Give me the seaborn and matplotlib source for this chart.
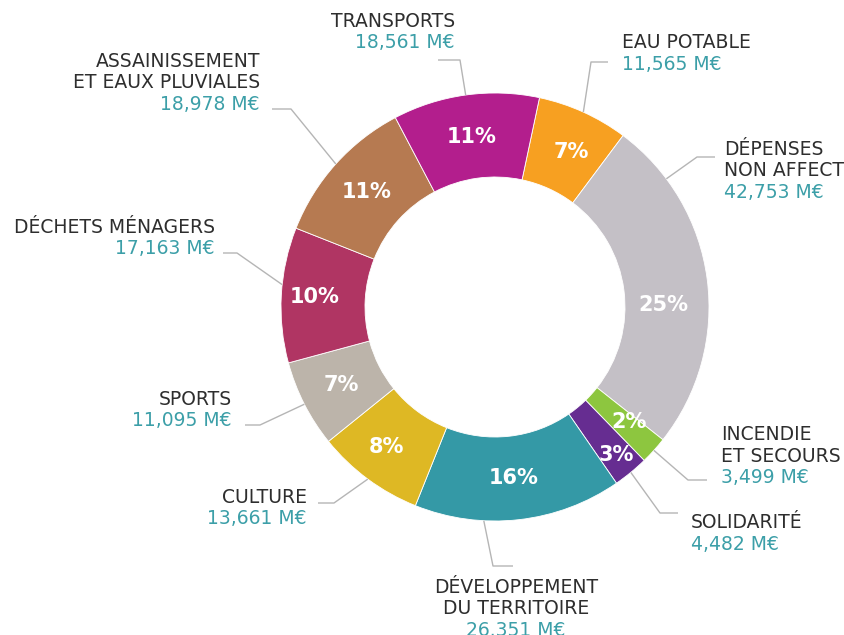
import matplotlib
matplotlib.use("Agg")
import matplotlib.pyplot as plt
import numpy as np
import seaborn as sns

# Budget par politique publique (M€)
categories = [
    "EAU POTABLE",
    "DÉPENSES\nNON AFFECTÉES",
    "INCENDIE\nET SECOURS",
    "SOLIDARITÉ",
    "DÉVELOPPEMENT\nDU TERRITOIRE",
    "CULTURE",
    "SPORTS",
    "DÉCHETS MÉNAGERS",
    "ASSAINISSEMENT\nET EAUX PLUVIALES",
    "TRANSPORTS",
]
values = [11.565, 42.753, 3.499, 4.482, 26.351, 13.661, 11.095, 17.163, 18.978, 18.561]
value_labels = [
    "11,565 M€", "42,753 M€", "3,499 M€", "4,482 M€", "26.351 M€",
    "13,661 M€", "11,095 M€", "17,163 M€", "18,978 M€", "18,561 M€",
]
colors = [
    "#F7A021", "#C4C0C6", "#8DC63F", "#662D91", "#3499A6",
    "#DEB824", "#BCB4AA", "#B03563", "#B67A51", "#B31E8D",
]

# Layout, in image pixels (y downwards)
W, H = 845, 635
CX, CY = 495, 307
R_OUT, RING = 214, 84
NAME_C = "#2E2E2E"
VALUE_C = "#3C9FA8"
LINE_C = "#B5B5B5"
LINE_STEP = 21.5
LABEL_SIZE = 13.5

# anchor angle override, elbow, end of leader, text x, first baseline, alignment
LABEL_LAYOUT = {
    "EAU POTABLE":        (None, (591, 62), (608, 62), 622, 48, "left"),
    "DÉPENSES":           (36.8, (697, 157), (715, 157), 724, 155, "left"),
    "INCENDIE":           (None, (688, 480), (707, 480), 721, 440, "left"),
    "SOLIDARITÉ":         (None, (660, 513), (678, 513), 691, 528, "left"),
    "DÉVELOPPEMENT":      (-93.0, (493, 566), (513, 566), 516, 593, "center"),
    "CULTURE":            (None, (334, 503), (318, 503), 307, 503, "right"),
    "SPORTS":             (None, (260, 425), (245, 425), 232, 405, "right"),
    "DÉCHETS MÉNAGERS":   (174.0, (237, 253), (223, 253), 215, 233, "right"),
    "ASSAINISSEMENT":     (None, (291, 109), (272, 109), 260, 67, "right"),
    "TRANSPORTS":         (None, (460, 60), (438, 60), 455, 27, "right"),
}
# small nudges of the percentage labels (pixels)
PCT_NUDGE = {"DÉPENSES": (-2, 20), "SOLIDARITÉ": (12, 15), "DÉCHETS MÉNAGERS": (-9, 0),
             "CULTURE": (-6, 2), "EAU POTABLE": (5, 2), "INCENDIE": (6, 0)}


def fy(y):
    return H - y


sns.set_theme(style="white")
plt.rcParams["font.family"] = ["DejaVu Sans"]

fig = plt.figure(figsize=(W / 100, H / 100), dpi=100)
ax = fig.add_axes([0, 0, 1, 1])

wedges, _ = ax.pie(
    values,
    colors=sns.color_palette(colors),
    startangle=78,
    counterclock=False,
    radius=R_OUT,
    center=(CX, fy(CY)),
    wedgeprops=dict(width=RING, edgecolor="white", linewidth=0.6),
)
ax.set_xlim(0, W)
ax.set_ylim(0, H)
ax.set_aspect("equal")
ax.axis("off")

total = sum(values)
r_mid = R_OUT - RING / 2
for wedge, cat, val, vlab in zip(wedges, categories, values, value_labels):
    key = cat.split("\n")[0]
    mid = np.deg2rad((wedge.theta1 + wedge.theta2) / 2)

    # percentage inside the ring
    dx, dy = PCT_NUDGE.get(key, (0, 0))
    px = CX + r_mid * np.cos(mid) + dx
    py = fy(CY) + r_mid * np.sin(mid) - dy
    ax.text(px, py, f"{val / total * 100:.0f}%", ha="center", va="center",
            color="white", fontsize=15, fontweight="bold")

    # leader line
    a_over, elbow, end, tx, base, ha = LABEL_LAYOUT[key]
    a = np.deg2rad(a_over) if a_over is not None else mid
    ax0 = CX + R_OUT * np.cos(a)
    ay0 = fy(CY) + R_OUT * np.sin(a)
    ax.plot([ax0, elbow[0], end[0]], [ay0, fy(elbow[1]), fy(end[1])],
            color=LINE_C, linewidth=1.0, solid_capstyle="butt")

    # category name + amount
    lines = cat.split("\n")
    for i, line in enumerate(lines):
        ax.text(tx, fy(base + i * LINE_STEP), line, ha=ha, va="baseline",
                color=NAME_C, fontsize=LABEL_SIZE)
    ax.text(tx, fy(base + len(lines) * LINE_STEP), vlab, ha=ha, va="baseline",
            color=VALUE_C, fontsize=LABEL_SIZE)

fig.savefig("out.png", dpi=100)
plt.close(fig)
